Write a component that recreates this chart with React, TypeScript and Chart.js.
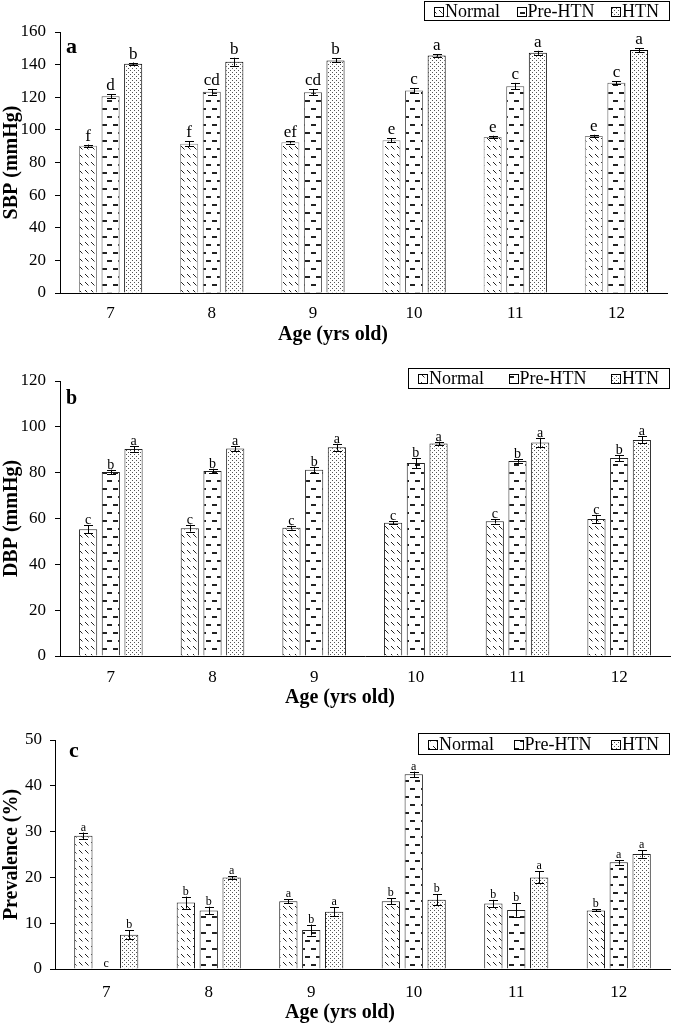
import React, { useEffect, useRef } from "react";
import { Chart, registerables } from "chart.js";

Chart.register(...registerables);

const FONT = "'Liberation Serif', 'Times New Roman', Times, serif";

// ---------- data ----------
const ages = ["7", "8", "9", "10", "11", "12"];
const seriesNames = ["Normal", "Pre-HTN", "HTN"];
const xAxisTitle = "Age (yrs old)";

// Panel a: SBP
const sbpNormal = [90.3, 91.5, 92.4, 93.7, 95.6, 96.2];
const sbpPre = [120.6, 123.3, 123.1, 124.2, 126.8, 128.9];
const sbpHtn = [140.5, 141.7, 142.6, 145.6, 147.3, 148.9];
const sbpNormalErr = [0.7, 1.5, 0.8, 1.2, 0.8, 0.8];
const sbpPreErr = [1.2, 1.8, 2.0, 1.5, 2.0, 0.8];
const sbpHtnErr = [0.8, 2.5, 1.2, 0.8, 1.2, 1.2];
const sbpNormalLetters = ["f", "f", "ef", "e", "e", "e"];
const sbpPreLetters = ["d", "cd", "cd", "c", "c", "c"];
const sbpHtnLetters = ["b", "b", "b", "a", "a", "a"];
const sbpAxis = { max: 160, step: 20, title: "SBP (mmHg)" };

// Panel b: DBP
const dbpNormal = [55.3, 55.8, 56.0, 58.2, 58.8, 59.8];
const dbpPre = [80.3, 80.7, 81.3, 84.2, 85.1, 86.4];
const dbpHtn = [90.3, 90.5, 91.1, 92.7, 93.2, 94.3];
const dbpNormalErr = [1.8, 1.5, 0.8, 0.6, 1.0, 1.8];
const dbpPreErr = [1.0, 1.0, 1.3, 2.2, 0.8, 1.3];
const dbpHtnErr = [1.2, 1.0, 1.5, 0.8, 2.0, 1.5];
const dbpNormalLetters = ["c", "c", "c", "c", "c", "c"];
const dbpPreLetters = ["b", "b", "b", "b", "b", "b"];
const dbpHtnLetters = ["a", "a", "a", "a", "a", "a"];
const dbpAxis = { max: 120, step: 20, title: "DBP (mmHg)" };

// Panel c: Prevalence
const prevNormal = [29.1, 14.5, 14.8, 14.8, 14.3, 12.8];
const prevPre = [0, 12.8, 8.5, 42.5, 12.9, 23.3];
const prevHtn = [7.5, 20.0, 12.5, 15.1, 20.0, 25.1];
const prevNormalErr = [0.7, 1.3, 0.4, 0.7, 0.8, 0.2];
const prevPreErr = [0, 0.8, 1.2, 0.6, 1.5, 0.5];
const prevHtnErr = [1.0, 0.3, 1.0, 1.2, 1.3, 0.8];
const prevNormalLetters = ["a", "b", "a", "b", "b", "b"];
const prevPreLetters = ["c", "b", "b", "a", "b", "a"];
const prevHtnLetters = ["b", "a", "a", "b", "a", "a"];
const prevAxis = { max: 50, step: 10, title: "Prevalence (%)" };

// ---------- patterns ----------
function makePattern(kind: string): CanvasPattern {
  const c = document.createElement("canvas");
  const ctx = c.getContext("2d")!;
  if (kind === "diag") {
    c.width = 6;
    c.height = 8;
    ctx.fillStyle = "#fff";
    ctx.fillRect(0, 0, 6, 8);
    ctx.strokeStyle = "#222";
    ctx.lineWidth = 1;
    ctx.beginPath();
    ctx.moveTo(1, 2);
    ctx.lineTo(4.5, 5.5);
    ctx.stroke();
  } else if (kind === "dash") {
    c.width = 11;
    c.height = 16;
    ctx.fillStyle = "#fff";
    ctx.fillRect(0, 0, 11, 16);
    ctx.fillStyle = "#222";
    ctx.fillRect(0, 4, 2, 2);
    ctx.fillRect(8, 4, 3, 2);
    ctx.fillRect(3, 12, 5, 2);
  } else {
    c.width = 4;
    c.height = 4;
    ctx.fillStyle = "#fff";
    ctx.fillRect(0, 0, 4, 4);
    ctx.fillStyle = "#555";
    ctx.fillRect(0, 0, 1, 1);
    ctx.fillRect(2, 2, 1, 1);
  }
  return ctx.createPattern(c, "repeat")!;
}

type PanelProps = {
  top: number;
  height: number;
  values: number[][];
  errors: number[][];
  letters: string[][];
  axis: { max: number; step: number; title: string };
  panelLetter: string;
  layout: {
    top: number;
    right: number;
    yWidth: number;
    xHeight: number;
    xTickPad: number;
    yTickPad: number;
    xTitleX: number;
    xTitleDy: number;
    letterSize: number;
    letterGap: number;
    panelDx: number;
    panelDy: number;
    panelSize: number;
    legendX: number;
    legendY: number;
    legendW: number;
    legendH: number;
    borders: string[];
  };
};

function Panel(props: PanelProps) {
  const ref = useRef<HTMLCanvasElement>(null);
  useEffect(() => {
    const L = props.layout;
    const pats = [makePattern("diag"), makePattern("dash"), makePattern("dots")];
    const annot = {
      id: "annot",
      afterDatasetsDraw(chart: any) {
        const ctx = chart.ctx as CanvasRenderingContext2D;
        const ys = chart.scales.y;
        ctx.save();
        props.values.forEach((vals, di) => {
          const meta = chart.getDatasetMeta(di);
          meta.data.forEach((el: any, i: number) => {
            const v = vals[i];
            const e = props.errors[di][i];
            const x = el.x;
            const yTop = ys.getPixelForValue(v + e);
            const yBot = ys.getPixelForValue(v - e);
            if (e > 0) {
              ctx.strokeStyle = "#000";
              ctx.lineWidth = 1;
              ctx.beginPath();
              const xr = Math.round(x) + 0.5;
              ctx.moveTo(xr, yTop);
              ctx.lineTo(xr, yBot);
              ctx.moveTo(xr - 4.5, Math.round(yTop) + 0.5);
              ctx.lineTo(xr + 4.5, Math.round(yTop) + 0.5);
              ctx.moveTo(xr - 4.5, Math.round(yBot) + 0.5);
              ctx.lineTo(xr + 4.5, Math.round(yBot) + 0.5);
              ctx.stroke();
            }
            ctx.fillStyle = "#000";
            ctx.font = `${L.letterSize}px ${FONT}`;
            ctx.textAlign = "center";
            ctx.textBaseline = "alphabetic";
            ctx.fillText(props.letters[di][i], x, yTop - L.letterGap);
          });
        });
        ctx.restore();
      },
      afterDraw(chart: any) {
        const ctx = chart.ctx as CanvasRenderingContext2D;
        const ca = chart.chartArea;
        ctx.save();
        // x-axis title
        ctx.fillStyle = "#000";
        ctx.font = `bold 20px ${FONT}`;
        ctx.textAlign = "center";
        ctx.textBaseline = "middle";
        ctx.fillText(xAxisTitle, L.xTitleX, ca.bottom + L.xTitleDy);
        // panel letter
        ctx.font = `bold ${L.panelSize}px ${FONT}`;
        ctx.textAlign = "left";
        ctx.textBaseline = "alphabetic";
        ctx.fillText(props.panelLetter, ca.left + L.panelDx, ca.top + L.panelDy);
        // legend
        ctx.fillStyle = "#fff";
        ctx.fillRect(L.legendX, L.legendY, L.legendW, L.legendH);
        ctx.strokeStyle = "#000";
        ctx.lineWidth = 1;
        ctx.strokeRect(L.legendX + 0.5, L.legendY + 0.5, L.legendW, L.legendH);
        ctx.font = `18px ${FONT}`;
        const widths = seriesNames.map((n) => ctx.measureText(n).width);
        const sym = 9;
        const symGap = 2;
        const itemsW = widths.reduce((a, w) => a + sym + symGap + w, 0);
        const gap = (L.legendW - itemsW - 20) / 2;
        let cx = L.legendX + 10;
        const cy = L.legendY + L.legendH / 2 + 0.5;
        seriesNames.forEach((n, i) => {
          ctx.fillStyle = pats[i];
          const sy = Math.round(cy - sym / 2) + 0.5;
          const sx = Math.round(cx) + 0.5;
          ctx.fillRect(sx, sy, sym, sym);
          ctx.strokeStyle = "#000";
          ctx.strokeRect(sx, sy, sym, sym);
          ctx.fillStyle = "#000";
          ctx.textBaseline = "middle";
          ctx.fillText(n, cx + sym + symGap, cy + 1);
          cx += sym + symGap + widths[i] + gap;
        });
        ctx.restore();
      },
    };

    const chart = new Chart(ref.current!, {
      type: "bar",
      data: {
        labels: ages,
        datasets: props.values.map((vals, i) => ({
          label: seriesNames[i],
          data: vals,
          backgroundColor: pats[i],
          borderColor: L.borders[i],
          borderWidth: 1,
          categoryPercentage: 0.67,
          barPercentage: 0.8,
        })),
      },
      options: {
        responsive: false,
        animation: false,
        devicePixelRatio: 1,
        layout: { padding: { top: L.top, right: L.right, left: 0, bottom: 0 } },
        plugins: { legend: { display: false }, tooltip: { enabled: false } },
        scales: {
          x: {
            grid: { display: false, drawTicks: false },
            border: { display: true, color: "#000", width: 1 },
            ticks: { font: { family: FONT, size: 17 }, color: "#000", padding: L.xTickPad },
            afterFit: (s: any) => {
              s.height = L.xHeight;
            },
          },
          y: {
            min: 0,
            max: props.axis.max,
            ticks: {
              stepSize: props.axis.step,
              font: { family: FONT, size: 17 },
              color: "#000",
              padding: L.yTickPad,
            },
            grid: {
              display: true,
              drawOnChartArea: false,
              drawTicks: true,
              tickLength: 5,
              color: "#000",
            },
            border: { display: true, color: "#000", width: 1 },
            title: {
              display: true,
              text: props.axis.title,
              font: { family: FONT, size: 20, weight: "bold" },
              color: "#000",
              padding: 0,
            },
            afterFit: (s: any) => {
              s.width = L.yWidth;
            },
          },
        },
      },
      plugins: [annot],
    } as any);
    return () => chart.destroy();
  }, []);
  return (
    <canvas
      ref={ref}
      width={685}
      height={props.height}
      style={{ position: "absolute", left: 0, top: props.top, width: 685, height: props.height }}
    />
  );
}

export default function App() {
  return (
    <div style={{ position: "absolute", left: 0, top: 0, width: 685, height: 1026, background: "#fff" }}>
      <Panel
        top={0}
        height={348}
        values={[sbpNormal, sbpPre, sbpHtn]}
        errors={[sbpNormalErr, sbpPreErr, sbpHtnErr]}
        letters={[sbpNormalLetters, sbpPreLetters, sbpHtnLetters]}
        axis={sbpAxis}
        panelLetter="a"
        layout={{
          top: 32, right: 18, yWidth: 60, xHeight: 55, xTickPad: 10, yTickPad: 9,
          xTitleX: 333, xTitleDy: 42, letterSize: 17, letterGap: 4,
          panelDx: 6, panelDy: 21, panelSize: 22,
          legendX: 424, legendY: 1, legendW: 245, legendH: 19,
          borders: ["#8a8a8a", "#555", "#000"],
        }}
      />
      <Panel
        top={348}
        height={364}
        values={[dbpNormal, dbpPre, dbpHtn]}
        errors={[dbpNormalErr, dbpPreErr, dbpHtnErr]}
        letters={[dbpNormalLetters, dbpPreLetters, dbpHtnLetters]}
        axis={dbpAxis}
        panelLetter="b"
        layout={{
          top: 33, right: 15, yWidth: 60, xHeight: 56, xTickPad: 11, yTickPad: 9,
          xTitleX: 340, xTitleDy: 42, letterSize: 14, letterGap: 1,
          panelDx: 6, panelDy: 23, panelSize: 20,
          legendX: 408, legendY: 20, legendW: 261, legendH: 20,
          borders: ["#222", "#222", "#222"],
        }}
      />
      <Panel
        top={712}
        height={314}
        values={[prevNormal, prevPre, prevHtn]}
        errors={[prevNormalErr, prevPreErr, prevHtnErr]}
        letters={[prevNormalLetters, prevPreLetters, prevHtnLetters]}
        axis={prevAxis}
        panelLetter="c"
        layout={{
          top: 28, right: 15, yWidth: 55, xHeight: 57, xTickPad: 13, yTickPad: 8,
          xTitleX: 340, xTitleDy: 44, letterSize: 12, letterGap: 2,
          panelDx: 14, panelDy: 17, panelSize: 22,
          legendX: 418, legendY: 21, legendW: 251, legendH: 21,
          borders: ["#222", "#222", "#222"],
        }}
      />
    </div>
  );
}
